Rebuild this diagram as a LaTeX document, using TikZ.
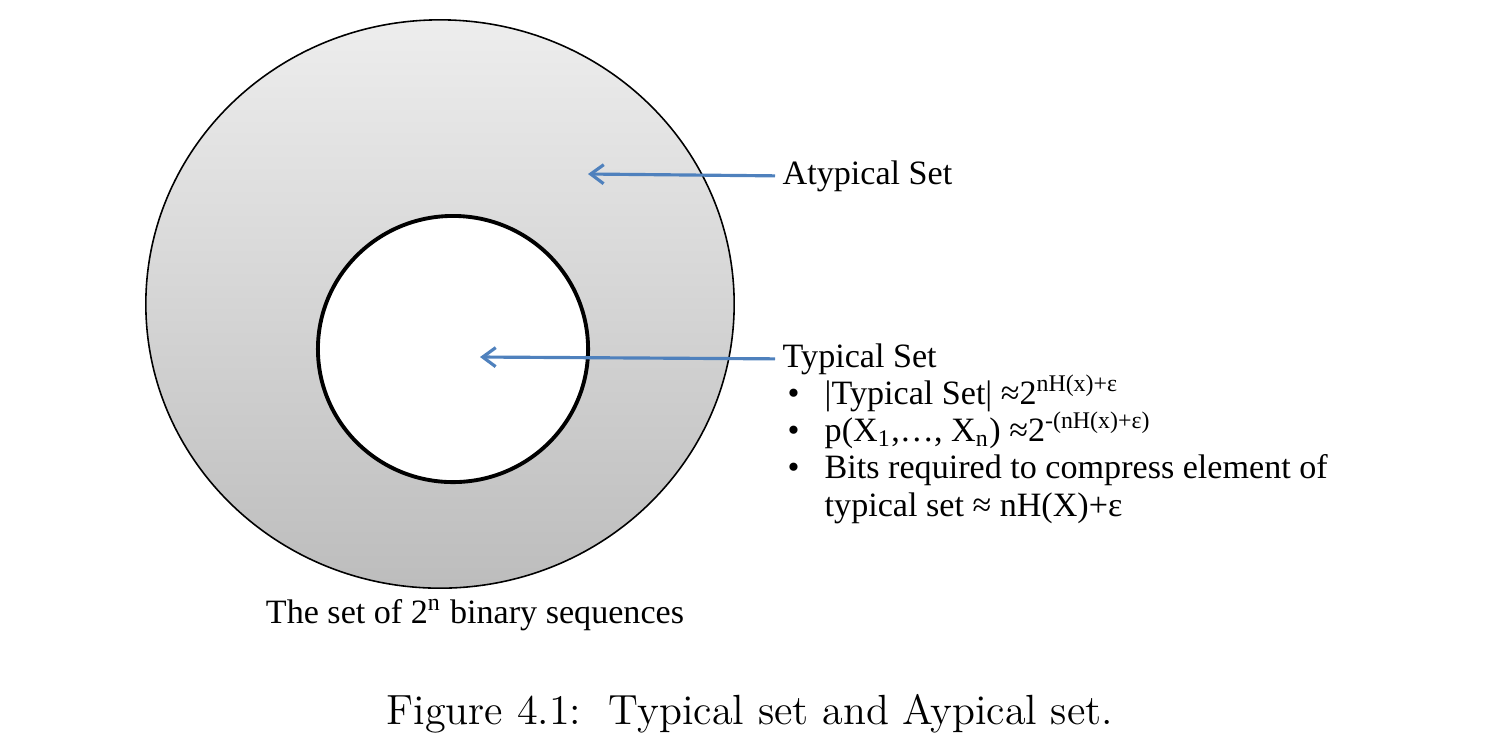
\documentclass[tikz,border=0pt]{standalone}
\usepackage{fontspec}
\newfontfamily\figfont{Liberation Serif}
\usetikzlibrary{arrows.meta}
\definecolor{arrowblue}{RGB}{79,129,189}

\begin{document}
\begin{tikzpicture}[x=0.01cm,y=-0.01cm,
	lbl/.style={font=\figfont\fontsize{9.7}{11}\selectfont, inner sep=0pt, anchor=base west},
	pointer/.style={-{Straight Barb[length=1.3mm,width=1.9mm]}, draw=arrowblue, line width=0.9pt}]
	\useasboundingbox (0,0) rectangle (1494,744);
	% the two sets
	\shade[top color=gray!14, bottom color=gray!52, draw=black, line width=0.45pt] (440,304) ellipse [x radius=2.94cm, y radius=2.84cm];
	\draw[fill=white, line width=1.1pt] (453,349) ellipse [x radius=1.35cm, y radius=1.33cm];
	\coordinate (atyp) at (588,174);
	\coordinate (typ) at (480,357);
	% labels
	\node[lbl] (atyplbl) at (782,184) {Atypical Set};
	\node[lbl] (typlbl) at (782,367) {Typical Set};
	\node[lbl] (dot1) at (787,404) {•};
	\node[lbl] (size) at (824,404) {|Typical Set| ≈2\textsuperscript{nH(x)+ε}};
	\node[lbl] (dot2) at (787,441) {•};
	\node[lbl] (prob) at (824,441) {p(X\textsubscript{1},…, X\textsubscript{n}) ≈2\textsuperscript{-(nH(x)+ε)}};
	\node[lbl] (dot3) at (787,478) {•};
	\node[lbl] (bits) at (824,478) {Bits required to compress element of};
	\node[lbl] (bits2) at (824,516) {typical set ≈ nH(X)+ε};
	\node[lbl, anchor=base] (seqlbl) at (475,623) {The set of 2\textsuperscript{n} binary sequences};
	\draw[pointer] ([xshift=-0.07cm]atyplbl.west) -- (atyp);
	\draw[pointer] ([xshift=-0.07cm]typlbl.west) -- (typ);
	% caption
	\node[font=\fontsize{12}{14}\selectfont, inner sep=0pt] (caption) at (750,714) {Figure 4.1:\ \ Typical set and Aypical set.};
\end{tikzpicture}
\end{document}
